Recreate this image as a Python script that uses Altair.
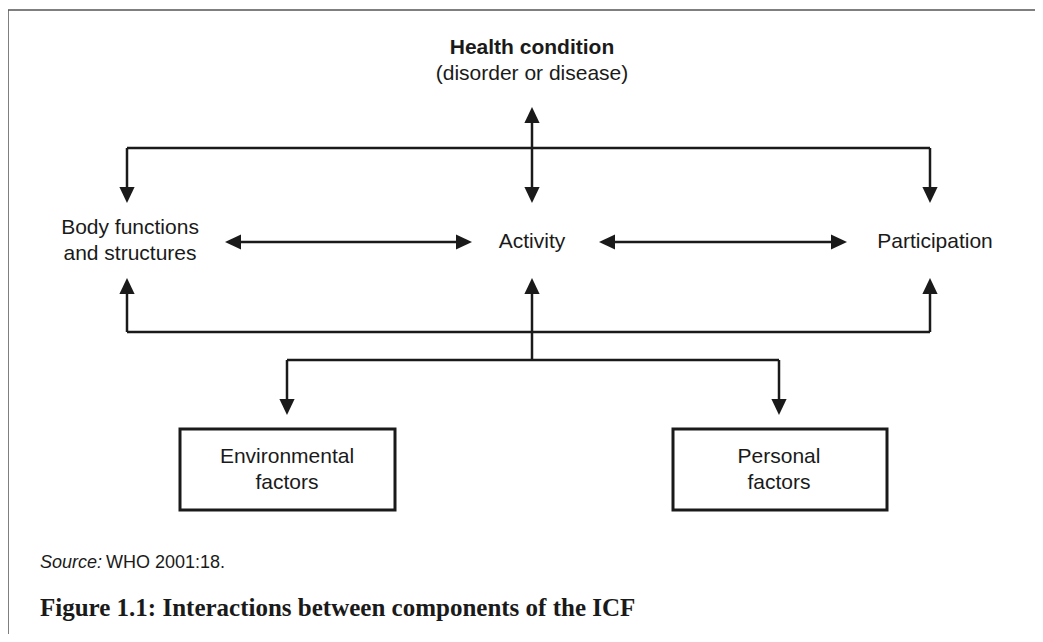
import altair as alt
import pandas as pd

# ---- diagram geometry (pixel-like coordinates, y grows downward) ----
# connector segments: x1, y1, x2, y2
seg_x1 = [127, 127, 930, 532, 235, 609, 127, 127, 930, 532, 287, 287, 779]
seg_y1 = [148, 148, 148, 117, 242, 242, 332, 332, 332, 360, 360, 360, 360]
seg_x2 = [930, 127, 930, 532, 462, 837, 930, 127, 930, 532, 779, 287, 779]
seg_y2 = [148, 195, 195, 195, 242, 242, 332, 288, 288, 288, 360, 407, 407]

# arrowheads: centre x, centre y, direction
arr_x = [532, 532, 127, 930, 233, 464, 607, 839, 127, 532, 930, 287, 779]
arr_y = [115, 195, 195, 195, 242, 242, 242, 242, 286, 286, 286, 407, 407]
arr_dir = ["up", "down", "down", "down", "left", "right", "left", "right",
           "up", "up", "up", "down", "down"]

# boxes
box_x1 = [180, 673]
box_y1 = [429, 429]
box_x2 = [395, 887]
box_y2 = [510, 510]

# labels
lab_text = ["Body functions", "and structures", "Activity", "Participation",
            "Environmental", "factors", "Personal", "factors",
            "(disorder or disease)"]
lab_x = [130, 130, 532, 935, 287, 287, 779, 779, 532]
lab_y = [228, 254, 242, 242, 457, 483, 457, 483, 74]

title_text = ["Health condition"]
title_x = [532]
title_y = [48]

src_italic = ["Source:"]
src_plain = ["WHO 2001:18."]
caption = ["Figure 1.1: Interactions between components of the ICF"]

# frame lines (top and left border)
frame_x1 = [8, 8]
frame_y1 = [10, 10]
frame_x2 = [1043, 8]
frame_y2 = [10, 642]

paths = {
    "up": "M0,-1L-0.95,1L0.95,1Z",
    "down": "M0,1L-0.95,-1L0.95,-1Z",
    "left": "M-1,0L1,-0.95L1,0.95Z",
    "right": "M1,0L-1,-0.95L-1,0.95Z",
}

W, H = 1027, 626
xs = alt.Scale(domain=[8, 8 + W])
ys = alt.Scale(domain=[8, 8 + H], reverse=True)

def X(f):
    return alt.X(f, type="quantitative", scale=xs, axis=None)

def Y(f):
    return alt.Y(f, type="quantitative", scale=ys, axis=None)

segs = pd.DataFrame({"x1": seg_x1, "y1": seg_y1, "x2": seg_x2, "y2": seg_y2})
arrows = pd.DataFrame({"x": arr_x, "y": arr_y,
                       "shape": [paths[d] for d in arr_dir]})
boxes = pd.DataFrame({"x1": box_x1, "y1": box_y1, "x2": box_x2, "y2": box_y2})
labels = pd.DataFrame({"x": lab_x, "y": lab_y, "t": lab_text})
titles = pd.DataFrame({"x": title_x, "y": title_y, "t": title_text})
frame = pd.DataFrame({"x1": frame_x1, "y1": frame_y1, "x2": frame_x2, "y2": frame_y2})

frame_layer = alt.Chart(frame).mark_rule(color="#555555", strokeWidth=1.5).encode(
    x=X("x1"), y=Y("y1"), x2="x2", y2="y2")

seg_layer = alt.Chart(segs).mark_rule(color="#1a1a1a", strokeWidth=2.5).encode(
    x=X("x1"), y=Y("y1"), x2="x2", y2="y2")

arrow_layer = alt.Chart(arrows).mark_point(
    filled=True, color="#1a1a1a", opacity=1, size=256, strokeWidth=0).encode(
    x=X("x"), y=Y("y"), shape=alt.Shape("shape:N", scale=None, legend=None))

box_layer = alt.Chart(boxes).mark_rect(
    fill="white", stroke="#1a1a1a", strokeWidth=3).encode(
    x=X("x1"), y=Y("y1"), x2="x2", y2="y2")

label_layer = alt.Chart(labels).mark_text(
    font="Liberation Sans", fontSize=21, color="#1a1a1a", baseline="middle",
    align="center").encode(x=X("x"), y=Y("y"), text="t:N")

title_layer = alt.Chart(titles).mark_text(
    font="Liberation Sans", fontSize=21, fontWeight="bold", color="#1a1a1a",
    baseline="middle", align="center").encode(x=X("x"), y=Y("y"), text="t:N")

src1 = alt.Chart(pd.DataFrame({"x": [40], "y": [563], "t": src_italic})).mark_text(
    font="Liberation Sans", fontSize=18, fontStyle="italic", color="#1a1a1a",
    baseline="middle", align="left").encode(x=X("x"), y=Y("y"), text="t:N")

src2 = alt.Chart(pd.DataFrame({"x": [106], "y": [563], "t": src_plain})).mark_text(
    font="Liberation Sans", fontSize=18, color="#1a1a1a",
    baseline="middle", align="left").encode(x=X("x"), y=Y("y"), text="t:N")

cap = alt.Chart(pd.DataFrame({"x": [40], "y": [608], "t": caption})).mark_text(
    font="Liberation Serif", fontSize=25, fontWeight="bold", color="#1a1a1a",
    baseline="middle", align="left").encode(x=X("x"), y=Y("y"), text="t:N")

chart = alt.layer(
    frame_layer, seg_layer, arrow_layer, box_layer, label_layer, title_layer,
    src1, src2, cap
).properties(
    width=W, height=H, padding=0,
    autosize=alt.AutoSizeParams(type="none"),
    background="white",
).configure_view(stroke=None)

chart.save("out.html", embed_options={"renderer": "svg", "actions": False})
